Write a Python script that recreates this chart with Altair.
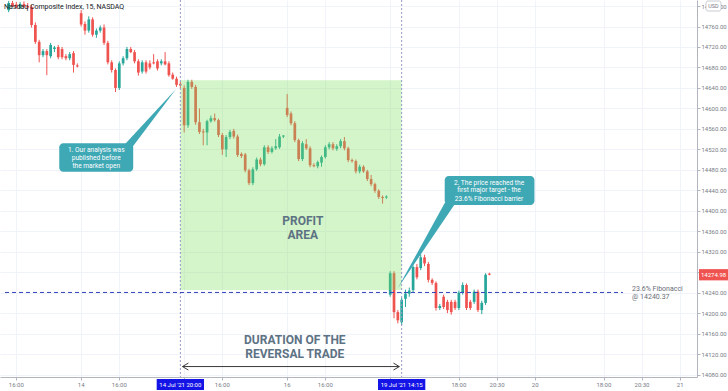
import altair as alt
import pandas as pd

# ---------------- candle data (15-min bars, index = bar number) ----------------
opens = [
14792,14806,14803,14797,14804,14800,14798,14763,14730,14704,
14712,14702,14716,14720,14716,14702,14698,14708,14684,14786,
14765,14752,14774,14744,14752,14758,14728,14690,14675,14640,
14688,14698,14716,14710,14692,14672,14690,14688,14690,14692,
14688,14692,14688,14666,14658,14648,14640,14567,14652,14642,
14573,14555,14553,14575,14581,14577,14548,14520,14544,14556,
14545,14511,14510,14479,14454,14481,14500,14491,14524,14515,
14522,14524,14545,14601,14590,14571,14538,14501,14530,14522,
14489,14487,14494,14505,14524,14530,14521,14526,14536,14522,
14499,14497,14477,14486,14477,14462,14452,14439,14427,14426,
14236,14278,14202,14182,14228,14238,14245,14290,14288,14309,
14296,14265,14259,14210,14232,14222,14222,14222,14210,14240,
14255,14222,14222,14242,14206,14220,14277]
highs = [
14810,14810,14808,14808,14809,14806,14802,14768,14734,14716,
14716,14728,14722,14724,14720,14706,14710,14712,14688,14792,
14770,14780,14778,14756,14762,14764,14732,14694,14678,14692,
14702,14720,14720,14714,14696,14694,14694,14694,14706,14696,
14696,14710,14692,14670,14662,14652,14645,14656,14656,14646,
14600,14560,14578,14586,14590,14580,14552,14548,14558,14560,
14549,14514,14513,14482,14485,14504,14504,14528,14528,14526,
14540,14550,14548,14628,14594,14575,14541,14536,14540,14526,
14493,14498,14508,14528,14534,14534,14530,14540,14544,14525,
14502,14500,14490,14489,14480,14470,14455,14442,14430,14430,
14282,14282,14206,14230,14246,14250,14293,14296,14315,14314,
14300,14268,14262,14218,14236,14226,14226,14226,14244,14260,
14258,14226,14246,14246,14224,14278,14279]
lows = [
14788,14798,14795,14794,14796,14794,14758,14726,14690,14700,
14665,14698,14710,14696,14696,14694,14694,14670,14680,14760,
14744,14748,14740,14738,14748,14724,14686,14670,14632,14636,
14684,14694,14708,14688,14664,14668,14668,14676,14686,14674,
14684,14684,14662,14656,14642,14640,14553,14562,14638,14568,
14550,14528,14528,14572,14574,14544,14509,14505,14540,14541,
14505,14503,14475,14450,14450,14478,14487,14488,14511,14512,
14519,14521,14542,14583,14567,14534,14497,14497,14519,14485,
14485,14483,14486,14502,14520,14518,14517,14522,14518,14495,
14494,14473,14473,14474,14458,14448,14435,14423,14414,14423,
14232,14190,14180,14176,14212,14232,14240,14266,14284,14292,
14260,14255,14205,14206,14208,14200,14197,14206,14206,14236,
14206,14206,14218,14202,14198,14216,14274]
closes = [
14806,14800,14797,14804,14799,14797,14763,14730,14704,14712,
14704,14724,14719,14700,14700,14698,14706,14685,14682,14764,
14752,14774,14744,14752,14758,14728,14690,14675,14640,14688,
14698,14716,14710,14692,14670,14690,14672,14680,14688,14678,
14692,14686,14665,14658,14646,14645,14567,14652,14642,14573,
14554,14553,14575,14581,14577,14548,14520,14544,14554,14545,
14509,14507,14479,14454,14481,14500,14491,14524,14515,14522,
14526,14545,14547,14587,14571,14538,14501,14532,14522,14489,
14487,14495,14505,14524,14530,14522,14526,14536,14522,14499,
14497,14477,14486,14477,14462,14452,14439,14427,14425,14428,
14278,14202,14186,14226,14238,14244,14290,14270,14309,14297,
14265,14259,14210,14214,14212,14206,14202,14210,14240,14255,
14210,14210,14242,14206,14220,14275,14275]
assert len(opens) == len(highs) == len(lows) == len(closes) == 127

# ---------------- axis labels ----------------
y_ticks = [14080, 14120, 14160, 14200, 14240, 14280, 14320, 14360, 14400, 14440,
           14480, 14520, 14560, 14600, 14640, 14680, 14720, 14760, 14800]
grid_pos = [2, 19, 29, 46, 56, 73, 83, 100, 118, 128, 138, 156, 166, 176]
xlab_pos = [2, 19, 29, 56, 73, 83, 118, 128, 138, 156, 166, 176]
xlab_text = ["16:00", "14", "16:00", "16:00", "16", "16:00", "18:00", "20:30", "20",
             "18:00", "20:30", "21"]
hl_pos = [45, 103]
hl_text = ["14 Jul '21  20:00", "19 Jul '21  14:15"]
last_price = 14274.98
fib_level = 14240.37

# ---------------- annotations ----------------
profit_x = [45, 103]
profit_p = [14655, 14245]
box_x0 = [13.26, 114.29]
box_x1 = [32.64, 137.8]
box_top = [14531.8, 14467.9]
box_bot = [14476.3, 14411.2]
call_text = ["1. Our analysis was", "published before", "the market open",
             "2. The price reached the", "first major target - the", "23.6% Fibonacci barrier"]
call_x = [22.95, 22.95, 22.95, 125.9, 125.9, 125.9]
call_p = [14519.7, 14504.0, 14488.4, 14455.2, 14439.6, 14423.9]
ptr_g = [1, 1, 1, 2, 2, 2]
ptr_x = [30.05, 32.64, 43.88, 101.97, 114.29, 117.13]
ptr_y = [14526.5, 14547.4, 14637.9, 14248.4, 14415.0, 14415.0]
ptr_y2 = [14526.5, 14526.5, 14637.9, 14248.4, 14383.9, 14415.0]
big_text = ["PROFIT", "AREA", "DURATION OF THE", "REVERSAL TRADE"]
big_x = [77.1, 77.1, 75.0, 75.0]
big_p = [14380.0, 14352.6, 14147.4, 14120.1]
arr_seg = [0, 0, 1, 1, 1, 2, 2, 2]
arr_ord = [0, 1, 0, 1, 2, 0, 1, 2]
arr_x = [45.55, 102.4, 47.1, 45.55, 47.1, 100.85, 102.4, 100.85]
arr_p = [14095.6, 14095.6, 14102.4, 14095.6, 14088.8, 14102.4, 14095.6, 14088.8]
fib_text = ["23.6% Fibonacci", "@ 14240.37"]
fib_text_x = [163.4, 163.4]
fib_text_p = [14247.0, 14232.4]
fib_end = 161.0

# ---------------- frames ----------------
candles = pd.DataFrame({"i": list(range(127)), "o": opens, "h": highs, "l": lows, "c": closes})
candles["dir"] = ["up" if c >= o else "down" for o, c in zip(opens, closes)]

XS = alt.Scale(domain=[-0.96, 179.1], nice=False, zero=False)
YS = alt.Scale(domain=[14075.2, 14811.8], nice=False, zero=False)
xaxis = alt.Axis(values=grid_pos, labels=False, title=None, tickSize=3, tickColor="#b2b5be",
                 domainColor="#b2b5be", gridColor="#f0f3fa", grid=True)
yaxis = alt.Axis(values=y_ticks, orient="right", title=None, tickSize=3, tickColor="#b2b5be",
                 domainColor="#b2b5be", gridColor="#f0f3fa", grid=True, labelFontSize=6,
                 labelColor="#787b86", labelPadding=1, labelFont="Roboto",
                 labelExpr="datum.value == 14280 ? '' : format(datum.value, '.2f')")


def X(f, **kw):
    return alt.X(f, type="quantitative", scale=XS, axis=xaxis, **kw)


def Y(f, **kw):
    return alt.Y(f, type="quantitative", scale=YS, axis=yaxis, **kw)


col = alt.Color("dir:N", scale=alt.Scale(domain=["up", "down"], range=["#26a69a", "#ef5350"]), legend=None)

wicks = alt.Chart(candles).mark_rule(strokeWidth=1).encode(x=X("i"), y=Y("l"), y2="h", color=col)
bodies = alt.Chart(candles).mark_bar(width=2.7).encode(x=X("i"), y=Y("o"), y2="c", color=col)

profit = alt.Chart(pd.DataFrame({"x0": [profit_x[0]], "x1": [profit_x[1]],
                                 "p0": [profit_p[0]], "p1": [profit_p[1]]})).mark_rect(
    color="#7be05a", opacity=0.33).encode(x=X("x0"), x2="x1", y=Y("p0"), y2="p1")

vlines = alt.Chart(pd.DataFrame({"i": hl_pos})).mark_rule(
    color="#9598c8", strokeDash=[2, 2], strokeWidth=1).encode(
    x=X("i"), y=alt.value(0), y2=alt.value(377))

fib = alt.Chart(pd.DataFrame({"x0": [-0.96], "x1": [fib_end], "p": [fib_level]})).mark_rule(
    color="#3346b8", strokeDash=[4, 3], strokeWidth=1).encode(x=X("x0"), x2="x1", y=Y("p"))

fibtxt = alt.Chart(pd.DataFrame({"i": fib_text_x, "p": fib_text_p, "t": fib_text})).mark_text(
    align="left", baseline="middle", fontSize=7, font="Roboto", color="#6a6d78").encode(
    x=X("i"), y=Y("p"), text="t:N")

ptr = alt.Chart(pd.DataFrame({"g": ptr_g, "i": ptr_x, "p": ptr_y, "p2": ptr_y2})).mark_area(
    color="#3fa8b5").encode(x=X("i"), y=Y("p"), y2="p2", detail="g:N")

boxes = alt.Chart(pd.DataFrame({"x0": box_x0, "x1": box_x1, "p0": box_top, "p1": box_bot})).mark_rect(
    color="#3fa8b5", cornerRadius=4).encode(x=X("x0"), x2="x1", y=Y("p0"), y2="p1")

calltxt = alt.Chart(pd.DataFrame({"i": call_x, "p": call_p, "t": call_text})).mark_text(
    align="center", baseline="middle", fontSize=6.6, font="Roboto", color="white").encode(
    x=X("i"), y=Y("p"), text="t:N")

bigtxt = alt.Chart(pd.DataFrame({"i": big_x, "p": big_p, "t": big_text})).mark_text(
    align="center", baseline="middle", fontSize=12, font="Roboto", fontWeight="bold",
    color="#5d7283").encode(x=X("i"), y=Y("p"), text="t:N")

arrow = alt.Chart(pd.DataFrame({"s": arr_seg, "o": arr_ord, "i": arr_x, "p": arr_p})).mark_line(
    color="#3a3a3a", strokeWidth=1).encode(x=X("i"), y=Y("p"), detail="s:N", order="o:Q")

title = alt.Chart(pd.DataFrame({"t": ["Nasdaq Composite Index, 15, NASDAQ"]})).mark_text(
    align="left", baseline="middle", fontSize=7, font="Roboto", color="#131722").encode(
    x=alt.value(4), y=alt.value(7), text="t:N")

xl = alt.Chart(pd.DataFrame({"i": xlab_pos, "t": xlab_text})).mark_text(
    align="center", baseline="middle", fontSize=6, font="Roboto", color="#787b86").encode(
    x=X("i"), y=alt.value(384.5), text="t:N")

hl_df = pd.DataFrame({"i": hl_pos, "t": hl_text})
hl_df["a"] = hl_df["i"] - 6.2
hl_df["b"] = hl_df["i"] + 6.2
hlbox = alt.Chart(hl_df).mark_rect(color="#1414e6").encode(
    x=X("a"), x2="b", y=alt.value(379), y2=alt.value(390))
hltxt = alt.Chart(hl_df).mark_text(align="center", baseline="middle", fontSize=6, font="Roboto",
                                   color="white").encode(x=X("i"), y=alt.value(384.5), text="t:N")

pbox_df = pd.DataFrame({"p0": [last_price + 11], "p1": [last_price - 11], "p": [last_price],
                        "t": [f"{last_price:.2f}"]})
pbox = alt.Chart(pbox_df).mark_rect(color="#ef5350").encode(
    x=alt.value(699), x2=alt.value(728), y=Y("p0"), y2="p1")
ptxt = alt.Chart(pbox_df).mark_text(align="left", baseline="middle", fontSize=6, font="Roboto",
                                    color="white").encode(x=alt.value(701), y=Y("p"), text="t:N")

usd = alt.Chart(pd.DataFrame({"t": ["USD"]})).mark_rect(
    fill="white", stroke="#b2b5be", strokeWidth=0.7, cornerRadius=2).encode(
    x=alt.value(706), x2=alt.value(721), y=alt.value(1), y2=alt.value(11))
usdt = alt.Chart(pd.DataFrame({"t": ["USD"]})).mark_text(
    align="center", baseline="middle", fontSize=5.5, font="Roboto", color="#787b86").encode(
    x=alt.value(713.5), y=alt.value(6.2), text="t:N")

chart = alt.layer(
    wicks, bodies, profit, vlines, fib, fibtxt, ptr, boxes, calltxt, bigtxt, arrow, title,
    xl, hlbox, hltxt, pbox, ptxt, usd, usdt
).properties(
    width=697, height=377,
    padding={"left": 0, "top": 0, "right": 31, "bottom": 14},
    autosize=alt.AutoSizeParams(type="none"),
    background="white",
).configure_view(stroke=None)

chart.save("out.html", embed_options={"renderer": "svg", "actions": False})
